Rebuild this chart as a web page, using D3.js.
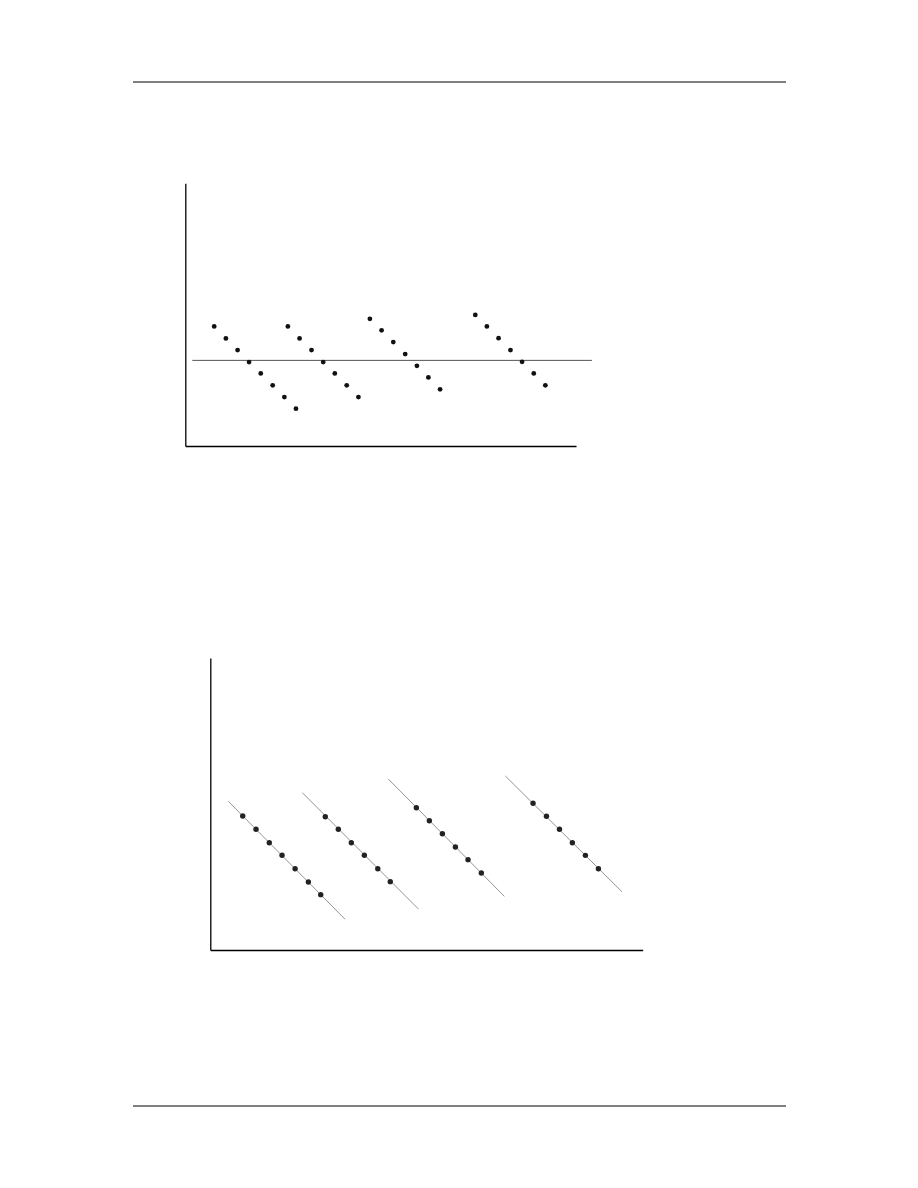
<!DOCTYPE html>
<html>
<head>
<meta charset="utf-8">
<script src="https://cdn.jsdelivr.net/npm/d3@7"></script>
<style>
  html, body { margin: 0; padding: 0; background: #fff; }
  svg { display: block; }
</style>
</head>
<body>
<script>
// ---------- Chart 1 data (upper chart) ----------
const c1g1x = [2.47, 3.47, 4.47, 5.45, 6.45, 7.47, 8.47, 9.46];
const c1g1y = [2.9, 1.87, 0.88, -0.14, -1.11, -2.13, -3.13, -4.12];
const c1g2x = [8.77, 9.77, 10.79, 11.79, 12.78, 13.8, 14.8];
const c1g2y = [2.9, 1.87, 0.88, -0.14, -1.11, -2.13, -3.13];
const c1g3x = [15.78, 16.78, 17.78, 18.8, 19.8, 20.78, 21.78];
const c1g3y = [3.54, 2.56, 1.56, 0.54, -0.46, -1.45, -2.47];
const c1g4x = [24.79, 25.78, 26.78, 27.8, 28.79, 29.79, 30.78];
const c1g4y = [3.88, 2.9, 1.89, 0.88, -0.12, -1.11, -2.13];
const c1ZeroLineX = [0.6, 34.76];
const c1XDomain = [0, 33.4];
const c1YDomain = [-7.3, 15.1];

// ---------- Chart 2 data (lower chart) ----------
const c2gAx = [2.49, 3.51, 4.53, 5.51, 6.51, 7.53, 8.48];
const c2gAy = [10.29, 9.27, 8.24, 7.28, 6.24, 5.22, 4.25];
const c2gBx = [8.83, 9.83, 10.83, 11.83, 12.86, 13.82];
const c2gBy = [10.24, 9.27, 8.24, 7.28, 6.24, 5.25];
const c2gCx = [15.82, 16.82, 17.82, 18.82, 19.79, 20.81];
const c2gCy = [10.93, 9.93, 8.93, 7.91, 6.94, 5.91];
const c2gDx = [24.78, 25.81, 26.81, 27.8, 28.8, 29.8];
const c2gDy = [11.27, 10.27, 9.27, 8.24, 7.27, 6.24];
// fitted lines: [x1, y1, x2, y2]
const c2lineA = [1.38, 11.42, 10.35, 2.36];
const c2lineB = [7.07, 12.08, 15.98, 3.15];
const c2lineC = [13.67, 13.13, 22.58, 4.12];
const c2lineD = [22.66, 13.36, 31.6, 4.48];
const c2XDomain = [0, 33.2];
const c2YDomain = [0, 22.43];

const W = 918, H = 1188;
const svg = d3.select("body").append("svg").attr("width", W).attr("height", H);

// page rules
const page = d3.scaleLinear().domain([0, 1]).range([133, 786]);
[82, 1106].forEach(y => {
  svg.append("line").attr("x1", page(0)).attr("x2", page(1))
    .attr("y1", y).attr("y2", y).attr("stroke", "#000").attr("stroke-width", 1.2);
});

const zip = (xs, ys) => xs.map((x, i) => ({ x, y: ys[i] }));

// ---------- Chart 1 ----------
{
  const x = d3.scaleLinear().domain(c1XDomain).range([185.3, 576]);
  const y = d3.scaleLinear().domain(c1YDomain).range([446, 183.3]);
  const g = svg.append("g");
  g.append("g").attr("transform", `translate(0,${y(c1YDomain[0])})`)
    .call(d3.axisBottom(x).tickValues([]).tickSizeOuter(0))
    .select(".domain").attr("stroke", "#000").attr("stroke-width", 1.3);
  g.append("g").attr("transform", `translate(${x(0)},0)`)
    .call(d3.axisLeft(y).tickValues([]).tickSizeOuter(0))
    .select(".domain").attr("stroke", "#000").attr("stroke-width", 1.3);
  g.append("line").attr("x1", x(c1ZeroLineX[0])).attr("x2", x(c1ZeroLineX[1]))
    .attr("y1", y(0)).attr("y2", y(0)).attr("stroke", "#555").attr("stroke-width", 1);
  const pts = [zip(c1g1x, c1g1y), zip(c1g2x, c1g2y), zip(c1g3x, c1g3y), zip(c1g4x, c1g4y)].flat();
  g.selectAll("circle.p1").data(pts).join("circle").attr("class", "p1")
    .attr("cx", d => x(d.x)).attr("cy", d => y(d.y)).attr("r", 2.4).attr("fill", "#111");
}

// ---------- Chart 2 ----------
{
  const x = d3.scaleLinear().domain(c2XDomain).range([210.3, 642.7]);
  const y = d3.scaleLinear().domain(c2YDomain).range([950, 658]);
  const g = svg.append("g");
  g.append("g").attr("transform", `translate(0,${y(0)})`)
    .call(d3.axisBottom(x).tickValues([]).tickSizeOuter(0))
    .select(".domain").attr("stroke", "#000").attr("stroke-width", 1.3);
  g.append("g").attr("transform", `translate(${x(0)},0)`)
    .call(d3.axisLeft(y).tickValues([]).tickSizeOuter(0))
    .select(".domain").attr("stroke", "#000").attr("stroke-width", 1.3);
  const lines = [c2lineA, c2lineB, c2lineC, c2lineD];
  g.selectAll("line.fit").data(lines).join("line").attr("class", "fit")
    .attr("x1", d => x(d[0])).attr("y1", d => y(d[1]))
    .attr("x2", d => x(d[2])).attr("y2", d => y(d[3]))
    .attr("stroke", "#888").attr("stroke-width", 0.9);
  const pts = [zip(c2gAx, c2gAy), zip(c2gBx, c2gBy), zip(c2gCx, c2gCy), zip(c2gDx, c2gDy)].flat();
  g.selectAll("circle.p2").data(pts).join("circle").attr("class", "p2")
    .attr("cx", d => x(d.x)).attr("cy", d => y(d.y)).attr("r", 2.7).attr("fill", "#222");
}
</script>
</body>
</html>
